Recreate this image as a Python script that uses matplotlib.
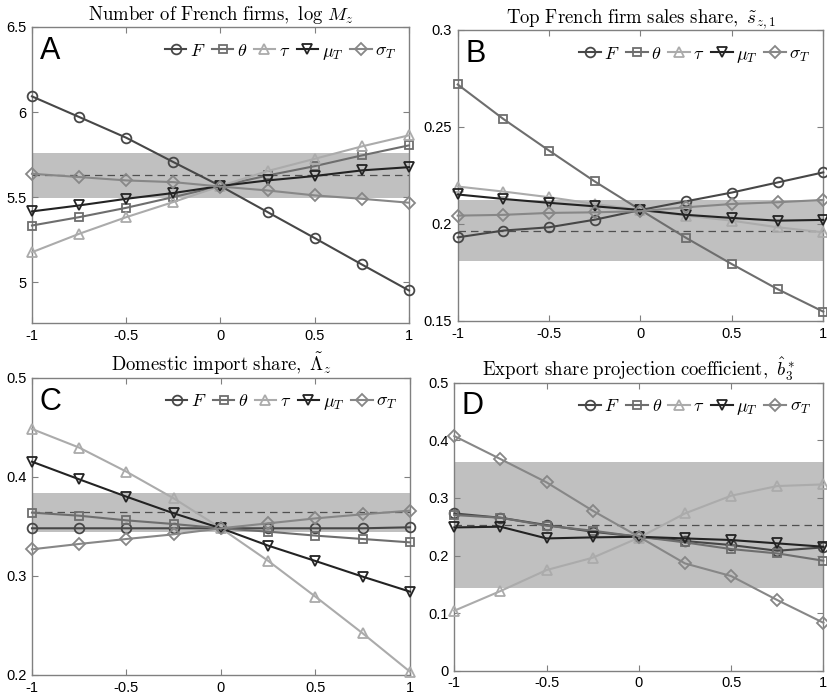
import matplotlib.pyplot as plt
import numpy as np

plt.rcParams["mathtext.fontset"] = "cm"
plt.rcParams["font.family"] = ["Liberation Sans", "DejaVu Sans"]

x = [-1, -0.75, -0.5, -0.25, 0, 0.25, 0.5, 0.75, 1]
names = ["$F$", r"$\theta$", r"$\tau$", r"$\mu_T$", r"$\sigma_T$"]

# panel A: number of French firms
a_F = [6.092, 5.971, 5.849, 5.706, 5.565, 5.412, 5.259, 5.104, 4.951]
a_theta = [5.333, 5.382, 5.437, 5.500, 5.565, 5.627, 5.682, 5.745, 5.804]
a_tau = [5.176, 5.284, 5.382, 5.471, 5.565, 5.653, 5.725, 5.798, 5.863]
a_mu = [5.416, 5.451, 5.490, 5.524, 5.565, 5.598, 5.624, 5.657, 5.676]
a_sigma = [5.637, 5.618, 5.598, 5.588, 5.562, 5.539, 5.510, 5.490, 5.467]
a_band = [5.496, 5.759]
a_data = 5.627

# panel B: top French firm sales share
b_F = [0.1931, 0.1966, 0.1983, 0.2022, 0.2072, 0.2117, 0.2162, 0.2214, 0.2266]
b_theta = [0.2719, 0.2541, 0.2378, 0.2219, 0.2072, 0.1928, 0.1793, 0.1664, 0.1548]
b_tau = [0.2193, 0.2167, 0.2138, 0.2103, 0.2072, 0.2043, 0.2017, 0.1983, 0.1957]
b_mu = [0.2152, 0.2129, 0.2109, 0.2091, 0.2072, 0.2047, 0.2031, 0.2017, 0.2021]
b_sigma = [0.2043, 0.2047, 0.2057, 0.2060, 0.2066, 0.2086, 0.2103, 0.2112, 0.2124]
b_band = [0.1807, 0.2126]
b_data = 0.1966

# panel C: domestic import share
c_F = [0.348, 0.348, 0.348, 0.348, 0.348, 0.348, 0.348, 0.348, 0.349]
c_theta = [0.3638, 0.3607, 0.3560, 0.3523, 0.348, 0.3446, 0.3406, 0.3372, 0.3338]
c_tau = [0.4482, 0.4294, 0.4051, 0.3782, 0.348, 0.3151, 0.2790, 0.2420, 0.2033]
c_mu = [0.4152, 0.3974, 0.3799, 0.3631, 0.348, 0.3305, 0.3150, 0.2992, 0.2841]
c_sigma = [0.3268, 0.3322, 0.3372, 0.3419, 0.348, 0.3530, 0.3580, 0.3621, 0.3658]
c_band = [0.3446, 0.3833]
c_data = 0.3641

# panel D: export share projection coefficient
d_F = [0.2731, 0.2656, 0.2529, 0.2413, 0.2326, 0.2251, 0.2182, 0.2083, 0.2141]
d_theta = [0.2703, 0.2656, 0.2517, 0.2431, 0.2326, 0.2228, 0.2112, 0.2037, 0.1910]
d_tau = [0.1042, 0.1383, 0.1748, 0.1962, 0.2309, 0.2731, 0.3038, 0.3206, 0.3235]
d_mu = [0.2488, 0.2500, 0.2297, 0.2315, 0.2326, 0.2297, 0.2269, 0.2211, 0.2153]
d_sigma = [0.4074, 0.3675, 0.3270, 0.2778, 0.2326, 0.1863, 0.1644, 0.1227, 0.0833]
d_band = [0.1441, 0.3617]
d_data = 0.2529

colors = ["#474747", "#6e6e6e", "#ababab", "#232323", "#878787"]
markers = ["o", "s", "^", "v", "D"]
msizes = [7, 5.5, 7.5, 7.5, 6]

panels = [
    ("A", r"$\mathrm{Number\ of\ French\ firms,}\ \log\,M_z$",
     [a_F, a_theta, a_tau, a_mu, a_sigma], a_band, a_data,
     (4.76, 6.5), [5, 5.5, 6, 6.5], ["5", "5.5", "6", "6.5"],
     [0.0386, 0.5366, 0.4553, 0.4247]),
    ("B", r"$\mathrm{Top\ French\ firm\ sales\ share,}\ \tilde{s}_{z,1}$",
     [b_F, b_theta, b_tau, b_mu, b_sigma], b_band, b_data,
     (0.15, 0.3), [0.15, 0.2, 0.25, 0.3], ["0.15", "0.2", "0.25", "0.3"],
     [0.5528, 0.5395, 0.4415, 0.4175]),
    ("C", r"$\mathrm{Domestic\ import\ share,}\ \tilde{\Lambda}_z$",
     [c_F, c_theta, c_tau, c_mu, c_sigma], c_band, c_data,
     (0.2, 0.5), [0.2, 0.3, 0.4, 0.5], ["0.2", "0.3", "0.4", "0.5"],
     [0.0386, 0.0316, 0.4565, 0.4266]),
    ("D", r"$\mathrm{Export\ share\ projection\ coefficient,}\ \hat{b}_3^*$",
     [d_F, d_theta, d_tau, d_mu, d_sigma], d_band, d_data,
     (0, 0.5), [0, 0.1, 0.2, 0.3, 0.4, 0.5], ["0", "0.1", "0.2", "0.3", "0.4", "0.5"],
     [0.5487, 0.0377, 0.4457, 0.4132]),
]

fig = plt.figure(figsize=(8.28, 6.97), dpi=100)
fig.set_facecolor("white")

for letter, title, series, band, data, ylim, yticks, ylabels, pos in panels:
    ax = fig.add_axes(pos)
    ax.axhspan(band[0], band[1], color="#c0c0c0", lw=0, zorder=0)
    ax.axhline(data, color="#505050", lw=0.9, ls=(0, (6, 4)), zorder=1)
    for ys, name, c, m, ms in zip(series, names, colors, markers, msizes):
        ax.plot(x, ys, color=c, marker=m, ms=ms, mfc="none", mew=1.3,
                lw=1.5, label=name, clip_on=False, zorder=3)
    ax.set_xlim(-1, 1)
    ax.set_ylim(*ylim)
    ax.set_xticks([-1, -0.5, 0, 0.5, 1])
    ax.set_xticklabels(["-1", "-0.5", "0", "0.5", "1"])
    ax.set_yticks(yticks)
    ax.set_yticklabels(ylabels)
    ax.tick_params(direction="in", length=4, width=0.8, color="#808080",
                   labelsize=10.5, top=True, right=True, pad=4)
    for s in ax.spines.values():
        s.set_color("#808080")
        s.set_linewidth(1.0)
    ax.set_title(title, fontsize=13.5, pad=5)
    ax.text(0.02, 0.97, letter, transform=ax.transAxes, fontsize=22,
            va="top", ha="left", color="black")
    ax.legend(loc="upper right", ncol=5, frameon=False, fontsize=13,
              handlelength=1.2, handletextpad=0.2, columnspacing=0.35,
              borderaxespad=0.3, bbox_to_anchor=(1.0, 0.99))

fig.savefig("out.png", dpi=100)
